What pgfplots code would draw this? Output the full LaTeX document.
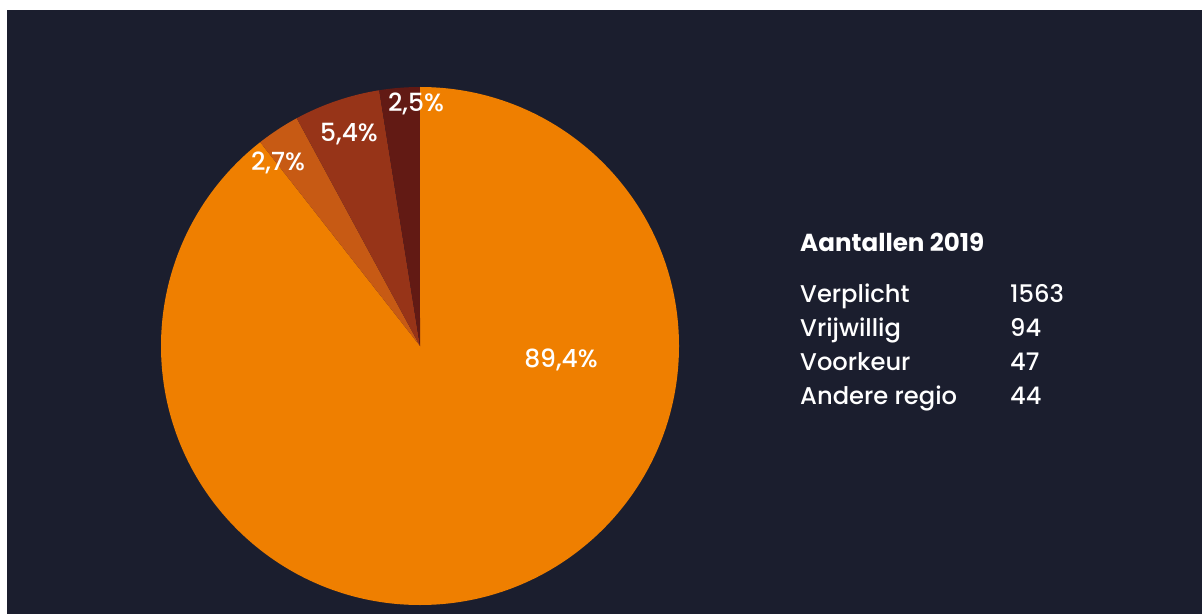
\documentclass[border=0pt]{standalone}
\usepackage{pgfplots}
\pgfplotsset{compat=1.18}
\usepackage{pgfplotstable}
\usepackage{fontspec}
\setmainfont{Poppins}
\newfontfamily\medfont{Poppins Medium}
\definecolor{bg}{HTML}{1B1E2E}
\definecolor{cA}{HTML}{EF7F00}
\definecolor{cB}{HTML}{C75A14}
\definecolor{cC}{HTML}{973418}
\definecolor{cD}{HTML}{621A14}
% slices clockwise from the top
\pgfplotstableread{
name value
Verplicht 1563
Voorkeur 47
Vrijwillig 94
Anderegio 44
}\piedata
\pgfplotstablegetelem{0}{value}\of\piedata \let\vA\pgfplotsretval
\pgfplotstablegetelem{1}{value}\of\piedata \let\vB\pgfplotsretval
\pgfplotstablegetelem{2}{value}\of\piedata \let\vC\pgfplotsretval
\pgfplotstablegetelem{3}{value}\of\piedata \let\vD\pgfplotsretval
\pgfmathsetmacro\tot{\vA+\vB+\vC+\vD}
\pgfmathsetmacro\aO{90}
\pgfmathsetmacro\aA{90-360*(\vA/\tot)}
\pgfmathsetmacro\aB{\aA-360*(\vB/\tot)}
\pgfmathsetmacro\aC{\aB-360*(\vC/\tot)}
\pgfmathsetmacro\aD{\aC-360*(\vD/\tot)}
\newcommand\pieslice[3]{%
  \fill[#3] (axis cs:420,268) -- (axis cs:{420+259*cos(#1)},{268+259*sin(#1)})
    arc[start angle=#1, end angle=#2, radius=259pt] -- cycle;}
\tikzset{lbl/.style={font=\medfont\fontsize{25}{29}\selectfont, text=white, inner sep=0pt},
  leg/.style={font=\medfont\fontsize{24.2}{28}\selectfont, text=white, anchor=base west, inner sep=0pt}}
\begin{document}
\begin{tikzpicture}
\begin{axis}[
  width=1202pt, height=614pt, scale only axis,
  xmin=0, xmax=1202, ymin=0, ymax=614,
  hide axis, clip=false,
]
\fill[white] (axis cs:0,0) rectangle (axis cs:1202,614);
\fill[bg] (axis cs:7,0) rectangle (axis cs:1202,604);
\pieslice{\aO}{\aA}{cA}
\pieslice{\aA}{\aB}{cB}
\pieslice{\aB}{\aC}{cC}
\pieslice{\aC}{\aD}{cD}
\node[lbl] at (axis cs:561,254) {89,4\%};
\node[lbl] at (axis cs:278,451) {2,7\%};
\node[lbl] at (axis cs:349,480) {5,4\%};
\node[lbl] at (axis cs:416,510) {2,5\%};
\node[leg, font=\fontsize{24.6}{28}\selectfont\bfseries] at (axis cs:800,362) {Aantallen 2019};
\node[leg] at (axis cs:800,312) {Verplicht};
\node[leg] at (axis cs:800,278) {Vrijwillig};
\node[leg] at (axis cs:800,244) {Voorkeur};
\node[leg] at (axis cs:800,210) {Andere regio};
\node[leg] at (axis cs:1010,312) {1563};
\node[leg] at (axis cs:1010,278) {94};
\node[leg] at (axis cs:1010,244) {47};
\node[leg] at (axis cs:1010,210) {44};
\end{axis}
\end{tikzpicture}
\end{document}
